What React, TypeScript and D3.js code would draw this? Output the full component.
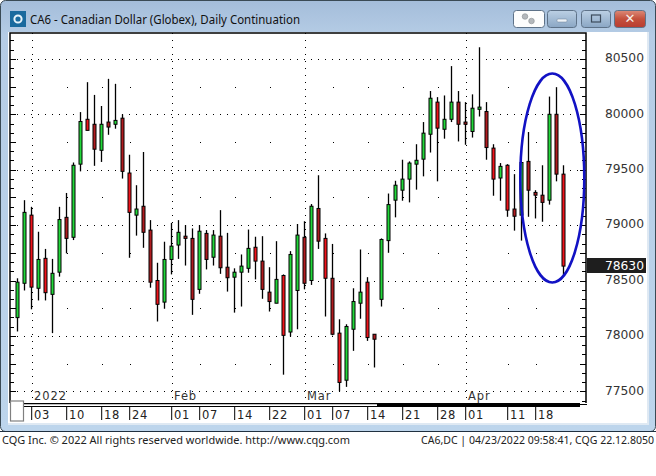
import React from "react";
import * as d3 from "d3";

const WIDTH = 656;
const HEIGHT = 476;

const highs = [78520,79225,79165,78940,78785,78695,79165,79290,79565,80020,80290,80175,80075,80320,80275,80000,79635,79360,79660,79045,78660,78850,79020,79045,79000,78970,79000,78955,78955,79135,78930,78610,78735,78960,78895,78900,78620,78855,78555,78765,79010,79035,79190,79450,78925,78830,78150,78105,78430,78780,78530,78015,78880,79285,79400,79590,79575,79730,79930,80210,80155,80170,80435,80210,80110,80180,80605,80110,79730,79560,79550,79460,79565,79840,79315,79540,80160,80245,79540];
const lows = [78040,78410,78240,78320,78320,78025,78535,78745,78865,79485,79855,79535,79570,79815,79870,79420,78705,78905,78795,78435,78130,78245,78555,78695,78635,78190,78380,78600,78635,78560,78400,78210,78265,78570,78510,78335,78220,78295,77650,77995,78060,78420,78460,78785,78175,78005,77500,77540,77865,78155,77955,77715,78265,78750,79070,79220,79205,79320,79440,79655,79395,79780,79930,79755,79725,79790,79980,79590,79265,79220,79075,78950,78860,79075,79060,79030,79185,79395,78550];
const bodyTops = [78485,79115,79090,78690,78700,78565,79050,79070,79540,79935,79955,79910,79910,79930,79945,79965,79470,79145,79170,78955,78500,78690,78810,78935,78900,78880,78945,78925,78910,78900,78620,78575,78630,78790,78800,78675,78395,78510,78545,78735,78910,78890,79170,79150,78880,78520,78025,78085,78310,78395,78485,78015,78870,79185,79360,79415,79560,79585,79830,80145,80110,79955,80110,80110,79930,80055,80065,80025,79695,79530,79540,79145,79565,79575,79295,79270,80000,80000,79460];
const bodyBottoms = [78165,78475,78440,78430,78390,78375,78575,78880,78890,79550,79855,79685,79675,79885,79910,79485,79115,79090,78935,78485,78285,78305,78690,78820,78880,78330,78420,78690,78710,78615,78525,78530,78575,78610,78675,78420,78310,78295,78005,78035,78410,78475,78500,78855,78520,78015,77580,77600,78060,78295,77985,77970,78330,78860,79225,79315,79415,79550,79595,79820,79875,79865,79955,79910,79910,79845,80045,79700,79415,79425,79135,79080,79090,79315,79270,79205,79225,79460,78630];
// G = up candle, R = down candle, D = down candle that prints darker
const candleKinds = "GGRGRGGDGGRDGDGDRGDDRGGGDDGDGDDGGGRDDGRGGDGDRDRGGGRDGGGGGGGGRGGDDGGDRGRDGDDDGDR";

const priceTicks = [80500, 80000, 79500, 79000, 78500, 78000, 77500];
const priceHalfTicks = [80250, 79750, 79250, 78750, 78250, 77750];
const lastPrice = 78630;

const weekLabels = ["03","10","18","24","01","07","14","22","01","07","14","21","28","01","11","18"];
const weekIndex = [2,7,12,16,22,26,31,36,41,45,50,55,60,64,70,74];
const monthLabels = ["2022","Feb","Mar","Apr"];
const monthIndex = [2,22,41,64];

const titleText = "CA6 - Canadian Dollar (Globex), Daily Continuation";
const footerLeft = "CQG Inc. © 2022 All rights reserved worldwide. http://www.cqg.com";
const footerRight = "CA6,DC | 04/23/2022 09:58:41, CQG 22.12.8050";

const PLOT = { left: 10, right: 586, top: 33, bottom: 403 };
const x = d3.scaleLinear().domain([0, 78]).range([17, 563]);
const y = d3.scaleLinear().domain([77500, 80500]).range([391.3, 58.9]);
const minorTicks = d3.range(77000, 80834, 500 / 6);

const UI = "'Noto Sans', sans-serif";
const AXIS = "'DejaVu Sans', sans-serif";

function WinButton({ bx, w, fill, children }: { bx: number; w: number; fill: string; children?: React.ReactNode }) {
  return (
    <g>
      <rect x={bx} y={10.5} width={w} height={17} rx={3} fill={fill} stroke="#5e7288" strokeWidth={1} />
      {children}
    </g>
  );
}

export default function App() {
  return (
    <svg
      width={WIDTH}
      height={HEIGHT}
      viewBox={`0 0 ${WIDTH} ${HEIGHT}`}
      style={{ position: "fixed", left: 0, top: 0, display: "block", background: "#fff" }}
    >
      <defs>
        <linearGradient id="frame" x1="0" y1="0" x2="0" y2="1">
          <stop offset="0" stopColor="#a4bdda" />
          <stop offset="0.08" stopColor="#b5cce5" />
          <stop offset="1" stopColor="#bdd5ec" />
        </linearGradient>
        <linearGradient id="btn" x1="0" y1="0" x2="0" y2="1">
          <stop offset="0" stopColor="#bcd0e4" />
          <stop offset="1" stopColor="#8aa6c4" />
        </linearGradient>
        <linearGradient id="close" x1="0" y1="0" x2="0" y2="1">
          <stop offset="0" stopColor="#dc8a78" />
          <stop offset="0.5" stopColor="#c4503c" />
          <stop offset="1" stopColor="#b83c30" />
        </linearGradient>
      </defs>

      {/* window frame */}
      <rect x={0.5} y={0.5} width={655} height={431} rx={5} fill="url(#frame)" stroke="#3a4a55" strokeWidth={1} />
      <rect x={8} y={32} width={640} height={391} fill="#fff" />
      <rect x={647} y={32} width={2} height={391} fill="#dfe9f3" />
      <rect x={8} y={423} width={641} height={2} fill="#dfe9f3" />
      <line x1={0} x2={656} y1={431.5} y2={431.5} stroke="#203040" strokeWidth={1.2} />

      {/* title bar */}
      <rect x={10} y={11} width={16} height={16} fill="#1a6a9e" />
      <circle cx={18} cy={19} r={3.6} fill="none" stroke="#e8f4fa" strokeWidth={2} />
      <text x={30} y={24} fontFamily={UI} fontSize={12.2} fill="#111" textLength={270} lengthAdjust="spacingAndGlyphs">
        {titleText}
      </text>
      <WinButton bx={513.5} w={31} fill="#fdfdfd">
        <g fill="#b4b8bc" stroke="#8a8e92" strokeWidth={0.6}>
          <circle cx={525} cy={16.5} r={2.8} />
          <circle cx={531.5} cy={21} r={2.8} />
        </g>
      </WinButton>
      <WinButton bx={547.5} w={29} fill="url(#btn)">
        <rect x={557} y={19} width={10} height={3} rx={1} fill="#eef3f8" stroke="#6b7f94" strokeWidth={0.5} />
      </WinButton>
      <WinButton bx={581.5} w={29} fill="url(#btn)">
        <rect x={591.5} y={15} width={9} height={7} fill="none" stroke="#3d4c5c" strokeWidth={1.2} />
      </WinButton>
      <WinButton bx={614.5} w={31} fill="url(#close)">
        <text x={630} y={23} textAnchor="middle" fontFamily={AXIS} fontWeight="bold" fontSize={13} fill="#f6efe9">✕</text>
      </WinButton>

      {/* gridlines */}
      <g stroke="#000" strokeWidth={1} strokeDasharray="1 6">
        {priceTicks.map((p) => (
          <line key={p} x1={PLOT.left} x2={PLOT.right} y1={Math.round(y(p)) + 0.5} y2={Math.round(y(p)) + 0.5} />
        ))}
        {monthIndex.map((i) => (
          <line key={i} x1={Math.round(x(i)) + 1.5} x2={Math.round(x(i)) + 1.5} y1={PLOT.top} y2={PLOT.bottom} />
        ))}
      </g>
      <g fill="#000">
        {priceHalfTicks.map((p) =>
          weekIndex
            .filter((i) => !monthIndex.includes(i))
            .map((i) => <rect key={`${p}-${i}`} x={Math.round(x(i)) + 1} y={Math.round(y(p))} width={1} height={1} />)
        )}
      </g>

      {/* candles */}
      <g>
        {highs.map((h, i) => (
          <line
            key={i}
            x1={x(i) + 0.5}
            x2={x(i) + 0.5}
            y1={y(h)}
            y2={y(lows[i])}
            stroke="#000"
            strokeWidth={1.3}
          />
        ))}
        {bodyTops.map((t, i) => {
          const k = candleKinds[i];
          const fill = k === "G" ? "#22d83a" : k === "D" ? "#b01c20" : "#f0141c";
          return (
            <rect
              key={i}
              x={x(i) - 1}
              y={y(t)}
              width={3}
              height={Math.max(y(bodyBottoms[i]) - y(t), 1)}
              fill={fill}
              stroke="#000"
              strokeWidth={1}
            />
          );
        })}
      </g>

      {/* plot border and price-axis ticks */}
      <g stroke="#000" strokeWidth={1}>
        {minorTicks.filter((p) => y(p) > PLOT.top && y(p) < PLOT.bottom).map((p, i) => {
          const yy = Math.round(y(p)) + 0.5;
          const long = Math.abs(p % 250) < 1;
          return (
            <g key={i}>
              <line x1={PLOT.left} x2={PLOT.left + (long ? 6 : 4)} y1={yy} y2={yy} />
              <line x1={PLOT.right - (long ? 6 : 4)} x2={PLOT.right} y1={yy} y2={yy} />
            </g>
          );
        })}
      </g>
      <path
        d={`M${PLOT.left},${PLOT.bottom}V${PLOT.top}H${PLOT.right}V${PLOT.bottom}`}
        fill="none"
        stroke="#000"
        strokeWidth={1.5}
      />

      {/* price labels */}
      <g fontFamily={AXIS} fontSize={12.3} fill="#333" textAnchor="end">
        {priceTicks.map((p) => (
          <text key={p} x={644} y={y(p) + 3.2}>{p}</text>
        ))}
      </g>
      <rect x={587} y={258} width={59} height={15} fill="#1e1e1e" />
      <text x={644} y={269.5} fontFamily={AXIS} fontSize={12.3} fill="#fff" textAnchor="end">{lastPrice}</text>

      {/* month labels */}
      <g fontFamily={AXIS} fontSize={11.5} fill="#333" letterSpacing={0.9}>
        {monthLabels.map((m, i) => (
          <text key={m} x={x(monthIndex[i]) + 3} y={400}>{m}</text>
        ))}
      </g>

      {/* date strip */}
      <rect x={24} y={403} width={353} height={1.5} fill="#000" />
      <rect x={24} y={404.5} width={353} height={2} fill="#fff" />
      <rect x={24} y={406} width={353} height={1} fill="#000" />
      <rect x={377} y={403} width={203} height={4} fill="#000" />
      <rect x={377} y={404} width={210} height={1} fill="#000" />
      {weekLabels.map((l, i) => (
        <g key={i}>
          <line x1={x(weekIndex[i]) + 0.7} x2={x(weekIndex[i]) + 0.7} y1={407} y2={420} stroke="#000" strokeWidth={1} />
          <text x={x(weekIndex[i]) + 3} y={419} fontFamily={AXIS} fontSize={11.5} fill="#222" letterSpacing={0.6}>{l}</text>
        </g>
      ))}
      <rect x={10.5} y={401} width={13} height={20} fill="#fff" stroke="#808080" strokeWidth={1.2} />

      {/* hand-drawn ellipse */}
      <ellipse cx={552.3} cy={178} rx={32} ry={104.5} fill="none" stroke="#1212c4" strokeWidth={2.6} />

      {/* footer */}
      <text x={2} y={444} fontFamily={UI} fontSize={11.5} fill="#222" textLength={348} lengthAdjust="spacingAndGlyphs">{footerLeft}</text>
      <text x={654} y={444} textAnchor="end" fontFamily={UI} fontSize={10.8} fill="#222" textLength={233} lengthAdjust="spacingAndGlyphs">{footerRight}</text>
    </svg>
  );
}
